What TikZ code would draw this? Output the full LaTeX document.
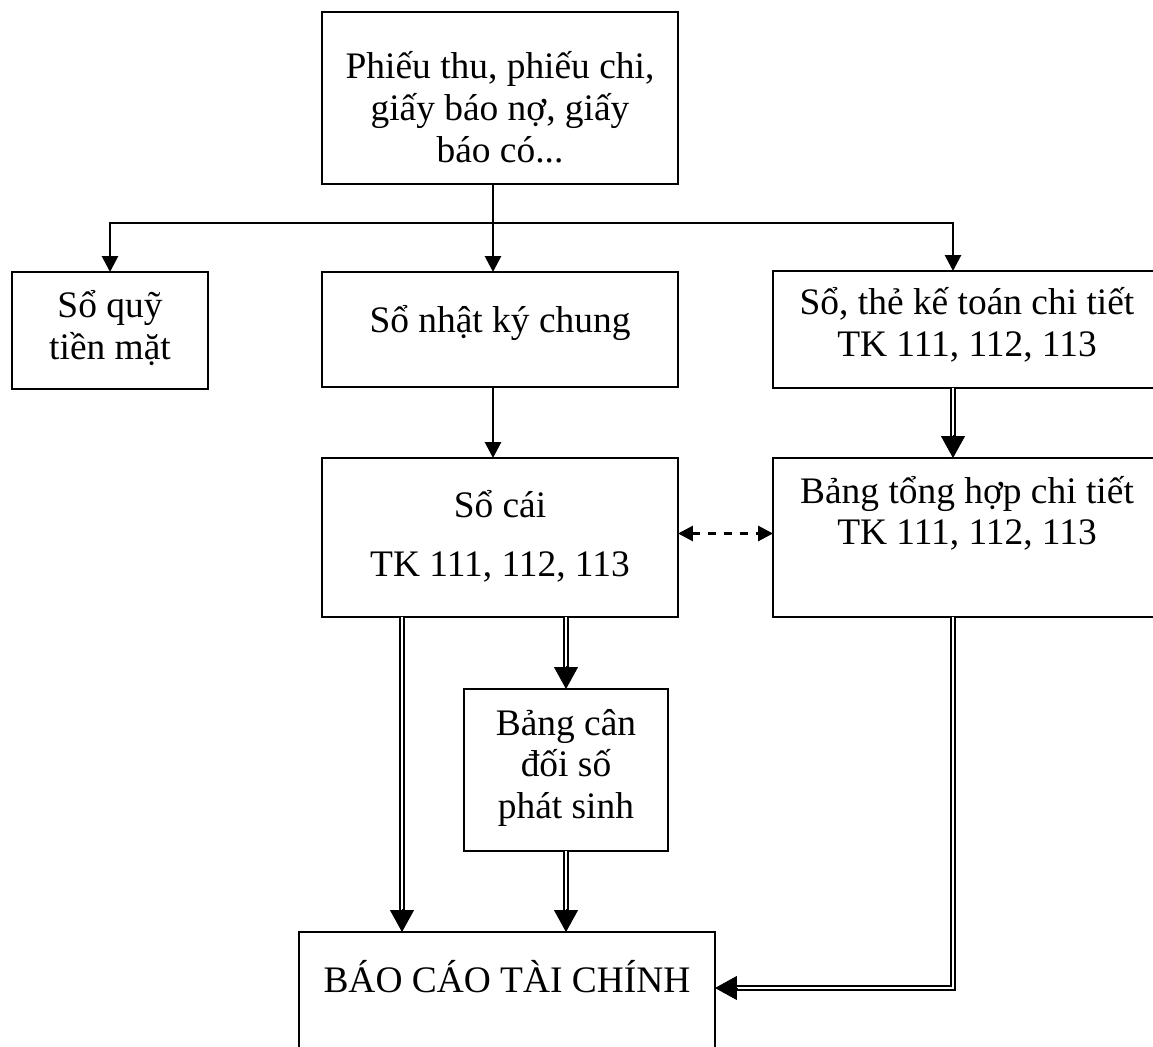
\documentclass[tikz,border=0pt]{standalone}
\usepackage{fontspec}
\setmainfont{Liberation Serif}
\usetikzlibrary{arrows.meta,calc}
\newcommand\boxlines[1]{\begin{tabular}[t]{@{}c@{}}#1\end{tabular}}

\begin{document}
\begin{tikzpicture}[x=0.02cm,y=-0.02cm,
  every node/.style={font=\fontsize{21.3pt}{23.8pt}\selectfont},
  box/.style={draw, line width=1.6pt, inner sep=0pt, outer sep=0pt},
  lbl/.style={anchor=base, inner sep=0pt, outer sep=0pt},
  link/.style={line width=1.6pt},
  arr/.style={-{Triangle[length=0.32cm,width=0.32cm]}},
  dbl/.style={draw, double, line width=1.1pt, double distance=1.6pt, shorten >=0.42cm},
  dtip/.style={line width=0.5pt, -{Triangle[length=0.44cm,width=0.48cm]}},
  dashlink/.style={line width=1.6pt, dash pattern=on 4.5pt off 4.5pt,
    {Triangle[length=0.3cm,width=0.3cm]}-{Triangle[length=0.3cm,width=0.3cm]}},
]
\useasboundingbox (0,0) rectangle (1153,1047);
\clip (0,0) rectangle (1153,1047);

% boxes
\node[box, minimum width=7.12cm, minimum height=3.44cm] (src) at (500,98) {};
\node[box, minimum width=3.92cm, minimum height=2.34cm] (quy) at (110,330.5) {};
\node[box, minimum width=7.12cm, minimum height=2.30cm] (nkc) at (500,329.5) {};
\node[box, minimum width=7.84cm, minimum height=2.34cm] (ctiet) at (969,329.5) {};
\node[box, minimum width=7.12cm, minimum height=3.18cm] (socai) at (500,537.5) {};
\node[box, minimum width=7.84cm, minimum height=3.18cm] (thop) at (969,537.5) {};
\node[box, minimum width=4.08cm, minimum height=3.24cm] (cdoi) at (566,770) {};
\node[box, line width=1.1pt, minimum width=8.32cm, minimum height=2.56cm] (bctc) at (507,996) {};

% texts
\node[lbl] (src-t) at (500,79) {\boxlines{Phiếu thu, phiếu chi,\\ giấy báo nợ, giấy\\ báo có...}};
\node[lbl] (quy-t) at (110,318) {\boxlines{Sổ quỹ\\ tiền mặt}};
\node[lbl] (nkc-t) at (500,333) {Sổ nhật ký chung};
\node[lbl] (ctiet-t) at (967,315) {\boxlines{Sổ, thẻ kế toán chi tiết\\ TK 111, 112, 113}};
\node[lbl] (socai-t) at (500,518) {\boxlines{Sổ cái\\[9.6pt] TK 111, 112, 113}};
\node[lbl] (thop-t) at (967,503) {\boxlines{Bảng tổng hợp chi tiết\\ TK 111, 112, 113}};
\node[lbl] (cdoi-t) at (566,735) {\boxlines{Bảng cân\\ đối số\\ phát sinh}};
\node[lbl] (bctc-t) at (507,992) {BÁO CÁO TÀI CHÍNH};

% junction points
\coordinate (jn) at (493,223);
\coordinate (rx) at (953,223);
\coordinate (lx) at (402,0);

% single connectors
\draw[link] (jn |- src.south) -- (jn);
\draw[link, arr] (jn) -| (quy.north);
\draw[link, arr] (jn) -- (jn |- nkc.north);
\draw[link, arr] (jn) -| (rx |- ctiet.north);
\draw[link, arr] (jn |- nkc.south) -- (jn |- socai.north);
\draw[dashlink] ($(socai.east)+(0,-4)$) -- ($(thop.west)+(0,-4)$);

% double connectors
\coordinate (e1) at (rx |- thop.north);
\draw[dbl] (rx |- ctiet.south) -- (e1);
\draw[dtip] ([yshift=0.46cm]e1) -- (e1);

\coordinate (e2) at (lx |- bctc.north);
\draw[dbl] (lx |- socai.south) -- (e2);
\draw[dtip] ([yshift=0.46cm]e2) -- (e2);

\coordinate (e3) at (cdoi.north);
\draw[dbl] (cdoi.north |- socai.south) -- (e3);
\draw[dtip] ([yshift=0.46cm]e3) -- (e3);

\coordinate (e4) at (cdoi.south |- bctc.north);
\draw[dbl] (cdoi.south) -- (e4);
\draw[dtip] ([yshift=0.46cm]e4) -- (e4);

\coordinate (e5) at ($(bctc.east)+(0,-8)$);
\draw[dbl] (rx |- thop.south) |- (e5);
\draw[dtip] ([xshift=0.46cm]e5) -- (e5);
\end{tikzpicture}
\end{document}
